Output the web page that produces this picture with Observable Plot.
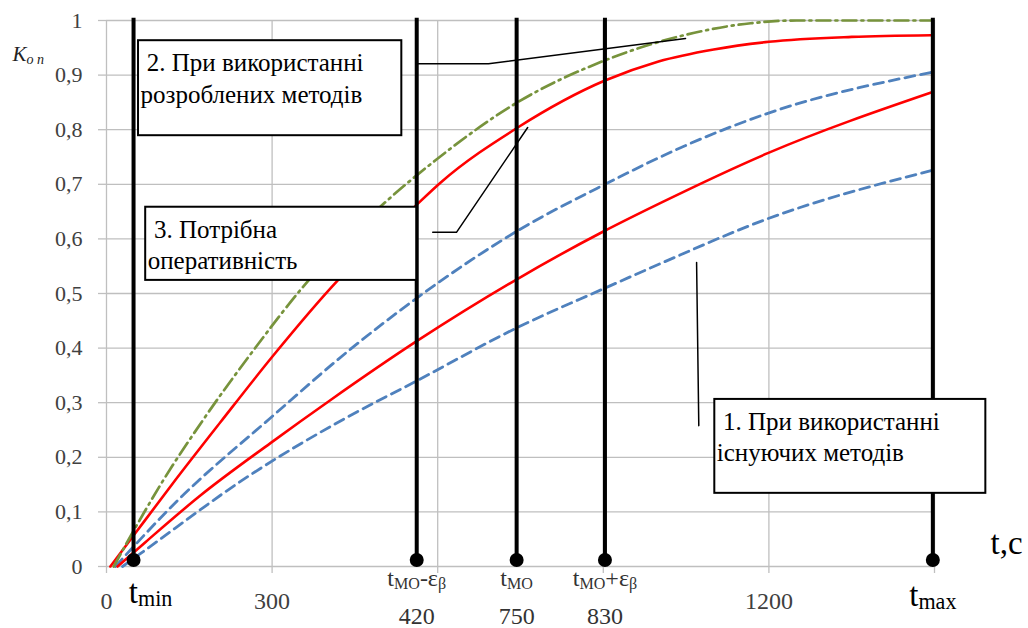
<!DOCTYPE html>
<html><head><meta charset="utf-8">
<script src="https://cdn.jsdelivr.net/npm/d3@7"></script>
<script src="https://cdn.jsdelivr.net/npm/@observablehq/plot@0.6"></script>
<style>
body{margin:0;background:#fff;}
#chart svg, #chart svg text { font-family: "Liberation Serif", "Times New Roman", serif !important; }
</style>
</head><body><div id="chart"></div>
<script>
// axis ticks
const xTicks = [0, 300, 600, 900, 1200, 1500];
const xTickLabels = ["0", "300", "", "", "1200", ""];
const yTicks = [0, 0.1, 0.2, 0.3, 0.4, 0.5, 0.6, 0.7, 0.8, 0.9, 1];
const yTickLabels = ["0", "0,1", "0,2", "0,3", "0,4", "0,5", "0,6", "0,7", "0,8", "0,9", "1"];

// curves (t in seconds, K_op)
const greenT = [13, 67, 98, 174, 270, 355, 493, 596, 741, 903, 1046, 1167, 1250, 1497];
const greenK = [0, 0.097, 0.150, 0.267, 0.401, 0.511, 0.656, 0.744, 0.848, 0.927, 0.973, 0.995, 1.0, 1.0];
const redUpT = [7, 50, 120, 207, 301, 419, 555, 605, 745, 903, 1000, 1100, 1200, 1350, 1494];
const redUpK = [0, 0.058, 0.152, 0.265, 0.385, 0.524, 0.656, 0.703, 0.804, 0.890, 0.925, 0.947, 0.961, 0.970, 0.973];
const blueUpT = [16, 129, 297, 442, 564, 745, 903, 1040, 1198, 1494];
const blueUpK = [0, 0.121, 0.272, 0.398, 0.493, 0.615, 0.700, 0.767, 0.830, 0.905];
const redLoT = [20, 71, 170, 297, 406, 564, 745, 901, 1004, 1198, 1494];
const redLoK = [0, 0.045, 0.130, 0.226, 0.305, 0.414, 0.527, 0.614, 0.666, 0.757, 0.868];
const blueLoT = [29, 62, 261, 430, 564, 745, 901, 1004, 1198, 1494];
const blueLoK = [0, 0.024, 0.168, 0.270, 0.341, 0.438, 0.509, 0.555, 0.637, 0.725];

// vertical markers
const markerT = [49, 562, 743, 903, 1497];
const markerDotK = 0.012;
const markerNames = ["t_{min}", "t_{MO}-ε_{β}", "t_{MO}", "t_{MO}+ε_{β}", "t_{max}"];
const markerValues = ["", "420", "750", "830", ""];

// annotation boxes
const boxT1 = [58, 71, 1102];
const boxT2 = [535, 562, 1593];
const boxK1 = [0.789, 0.524, 0.134];
const boxK2 = [0.963, 0.658, 0.306];
const boxTexts = ["\u00a02. При використанні\nрозроблених методів",
                  "\u00a03. Потрібна\nоперативність",
                  "\u00a01. При використанні\nіснуючих методів"];

// leader lines
const leader2T = [562, 692, 1049], leader2K = [0.921, 0.921, 0.967];
const leader3T = [591, 634, 763], leader3K = [0.612, 0.612, 0.804];
const leader1T = [1069, 1073], leader1K = [0.557, 0.258];

const yLabel = "K_{о п}";
const xLabel = "t,c";

const toRows = (T, K, id) => T.map((t, i) => ({t, k: K[i], id}));
const blues = [...toRows(blueUpT, blueUpK, "bu"), ...toRows(blueLoT, blueLoK, "bl")];
const reds = [...toRows(redUpT, redUpK, "ru"), ...toRows(redLoT, redLoK, "rl")];
const greens = toRows(greenT, greenK, "g");
const leaders = [...toRows(leader2T, leader2K, "l2"), ...toRows(leader3T, leader3K, "l3"), ...toRows(leader1T, leader1K, "l1")];
const boxes = boxT1.map((t1, i) => ({t1, t2: boxT2[i], k1: boxK1[i], k2: boxK2[i], text: boxTexts[i]}));
const markers = markerT.map((t, i) => ({t, name: markerNames[i], value: markerValues[i]}));
const xLabelRows = xTicks.map((t, i) => ({t, label: xTickLabels[i]})).filter(d => d.label);

const grid = "#bfbfbf";

const svg = Plot.plot({
  width: 1028, height: 628,
  marginLeft: 106, marginRight: 94, marginTop: 20, marginBottom: 62,
  x: {domain: [0, 1500]},
  y: {domain: [0, 1]},
  style: {background: "white", overflow: "visible"},
  marks: [
    Plot.gridX(xTicks, {stroke: grid, strokeOpacity: 1, strokeWidth: 1.3}),
    Plot.gridY(yTicks, {stroke: grid, strokeOpacity: 1, strokeWidth: 1.3}),
    Plot.axisX(xTicks, {tickSize: 7, stroke: grid, strokeWidth: 1.3, fill: "none", label: null}),
    Plot.axisY(yTicks, {tickSize: 8, tickPadding: 16, stroke: grid, strokeWidth: 1.3, fill: "#404040",
      fontSize: 22, label: null, tickFormat: (d) => yTickLabels[yTicks.indexOf(d)]}),
    Plot.text(xLabelRows, {x: "t", text: "label", frameAnchor: "bottom", dy: 42, lineAnchor: "bottom",
      fontSize: 24, fill: "#404040"}),
    Plot.line(blues, {x: "t", y: "k", z: "id", stroke: "#4f81bd", strokeWidth: 2.8, strokeDasharray: "10,6", curve: "monotone-x"}),
    Plot.line(reds, {x: "t", y: "k", z: "id", stroke: "#ff0000", strokeWidth: 2.6, curve: "monotone-x"}),
    Plot.line(greens, {x: "t", y: "k", z: "id", stroke: "#77933c", strokeWidth: 2.7, strokeDasharray: "14,5,2,5", curve: "monotone-x"}),
    Plot.ruleX(markers, {x: "t", y1: () => markerDotK, y2: () => 1.004, stroke: "black", strokeWidth: 4}),
    Plot.dot(markers, {x: "t", y: () => markerDotK, r: 7, fill: "black", stroke: null}),
    Plot.rect(boxes, {x1: "t1", x2: "t2", y1: "k1", y2: "k2", fill: "white", stroke: "black", strokeWidth: 2}),
    Plot.text(boxes, {x: "t1", y: "k2", text: "text", textAnchor: "start", lineAnchor: "top", dx: 2, dy: 8,
      fontSize: 25, lineHeight: 1.26, fill: "black"}),
    Plot.line(leaders, {x: "t", y: "k", z: "id", stroke: "black", strokeWidth: 1.5, curve: "linear"}),
    Plot.text(markers.filter(d => d.name === "t_{min}"), {x: "t", y: () => 0, text: "name", dx: 17, dy: 36,
      lineAnchor: "bottom", textAnchor: "middle", fontSize: 33, fill: "black"}),
    Plot.text(markers.filter(d => d.name === "t_{max}"), {x: "t", y: () => 0, text: "name", dx: 0, dy: 39,
      lineAnchor: "bottom", textAnchor: "middle", fontSize: 33, fill: "black"}),
    Plot.text(markers.filter(d => d.value), {x: "t", y: () => 0, text: "name", dy: 19,
      lineAnchor: "bottom", textAnchor: "middle", fontSize: 24, fill: "#333"}),
    Plot.text(markers.filter(d => d.value), {x: "t", y: () => 0, text: "value", dy: 57,
      lineAnchor: "bottom", textAnchor: "middle", fontSize: 24, fill: "#333"}),
    Plot.text([xLabel], {frameAnchor: "bottom-right", dx: 56, dy: -13, lineAnchor: "bottom", textAnchor: "start",
      fontSize: 33, fill: "black"}),
    Plot.text([yLabel], {frameAnchor: "top-left", dx: -94, dy: 40, lineAnchor: "bottom", textAnchor: "start",
      fontSize: 21, fontStyle: "italic", fill: "#222"})
  ]
});

// turn "_{...}" markup into subscript tspans
svg.querySelectorAll("text").forEach(el => {
  if (el.querySelector("tspan")) return;
  const s = el.textContent;
  if (!s.includes("_{")) return;
  el.textContent = "";
  const parts = s.split(/(_\{[^}]*\})/).filter(p => p);
  let shifted = false;
  for (const p of parts) {
    const ts = document.createElementNS("http://www.w3.org/2000/svg", "tspan");
    if (p.startsWith("_{")) {
      ts.textContent = p.slice(2, -1);
      ts.setAttribute("font-size", "0.67em");
      ts.setAttribute("dy", "3");
      shifted = true;
    } else {
      ts.textContent = p;
      if (shifted) { ts.setAttribute("dy", "-3"); shifted = false; }
    }
    el.appendChild(ts);
  }
});

document.getElementById("chart").appendChild(svg);
</script>
</body></html>
